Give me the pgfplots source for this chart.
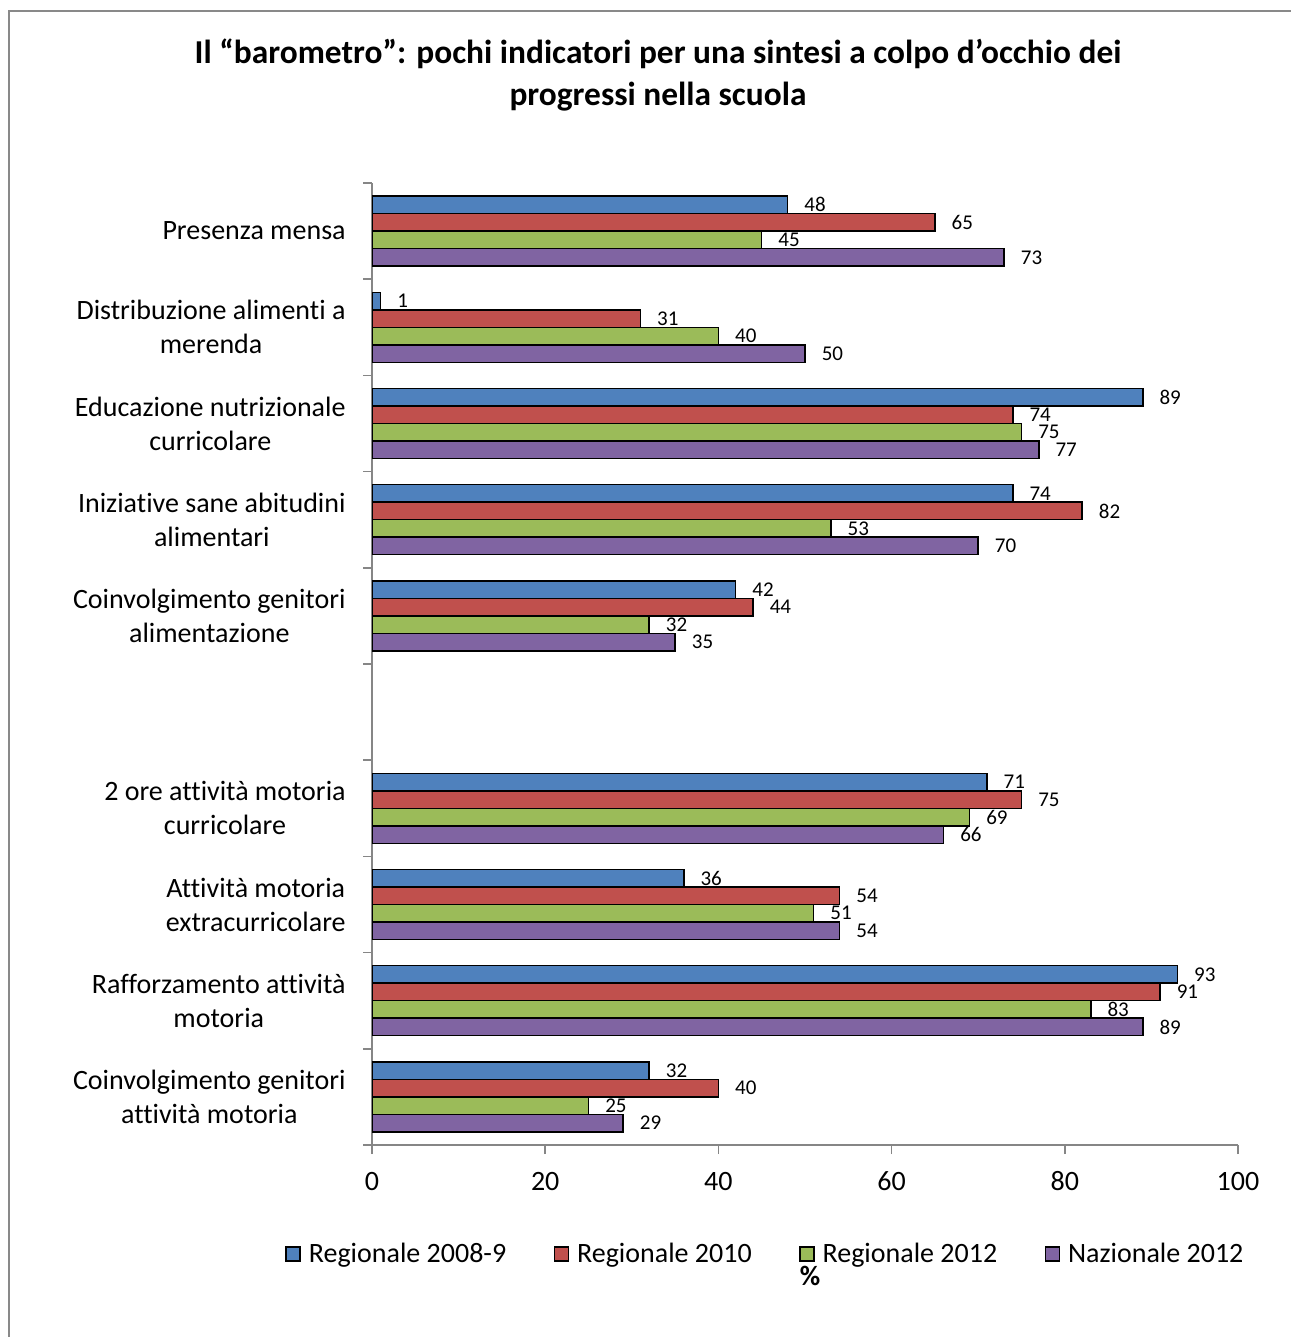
\documentclass[border=0pt]{standalone}
\usepackage{pgfplots}
\pgfplotsset{compat=1.18}
\usepackage{fontspec}
\setmainfont{Carlito}[Ligatures={TeX,NoCommon}]

\definecolor{regA}{HTML}{4F81BD}
\definecolor{regB}{HTML}{C0504D}
\definecolor{regC}{HTML}{9BBB59}
\definecolor{nazC}{HTML}{8064A2}
\definecolor{axgray}{HTML}{868686}
\definecolor{framegray}{HTML}{898989}

\begin{document}
\begin{tikzpicture}
\useasboundingbox (0,0) rectangle (645pt,-668.5pt);
\draw[framegray, line width=0.75pt] (4.5pt,-5.5pt) rectangle (660pt,-680pt);
\node[font=\fontsize{16.7}{21}\selectfont\bfseries, align=center] at (329pt,-37.5pt)
  {Il “barometro”: pochi indicatori per una sintesi a colpo d’occhio dei\\progressi nella scuola};

\begin{axis}[
  at={(186pt,-572.5pt)}, anchor=south west,
  scale only axis, width=433pt, height=481pt,
  xmin=0, xmax=100, ymin=-0.5, ymax=9.5,
  xbar=0pt, bar width=8.75pt,
  axis x line*=bottom, axis y line*=left,
  axis line style={draw=axgray, line width=0.75pt, -},
  tick style={draw=axgray, line width=0.75pt},
  tick align=outside, major tick length=4.5pt,
  /pgf/number format/assume math mode=true,
  xtick={0,20,...,100},
  xticklabel style={font=\fontsize{14}{17}\selectfont, anchor=center, inner sep=0pt, yshift=-13.5pt},
  ytick={-0.5,0.5,...,9.5}, yticklabels={},
  extra y ticks={0,1,2,3,5,6,7,8,9},
  extra y tick labels={
    {Coinvolgimento genitori\\attività motoria},
    {Rafforzamento attività\\motoria},
    {Attività motoria\\extracurricolare},
    {2 ore attività motoria\\curricolare},
    {Coinvolgimento genitori\\alimentazione},
    {Iniziative sane abitudini\\alimentari},
    {Educazione nutrizionale\\curricolare},
    {Distribuzione alimenti a\\merenda},
    {Presenza mensa}},
  extra y tick style={tick style={draw=none}},
  yticklabel style={font=\fontsize{14}{17}\selectfont, align=center, anchor=east, inner sep=0pt, xshift=-8.5pt},
  nodes near coords, point meta=x,
  every node near coord/.append style={font=\fontsize{10.5}{12}\selectfont, text=black, anchor=west, inner sep=0pt, xshift=8pt},
  every axis plot post/.append style={
    legend image code/.code={\draw[##1, line width=0.75pt] (0pt,-3.5pt) rectangle (7pt,3.5pt); \path (11pt,0pt);}},
  legend columns=4, reverse legend,
  legend style={at={(-0.1005,-0.1133)}, anchor=west, draw=none, fill=none, inner sep=0pt,
    font=\fontsize{14}{17}\selectfont, nodes={inner sep=0pt},
    /tikz/every even column/.append style={column sep=23.7pt}},
]
% Nazionale 2012
\addplot[draw=black, line width=0.75pt, fill=nazC] coordinates {
  (73,9) (50,8) (77,7) (70,6) (35,5) (66,3) (54,2) (89,1) (29,0)};
% Regionale 2012
\addplot[draw=black, line width=0.75pt, fill=regC] coordinates {
  (45,9) (40,8) (75,7) (53,6) (32,5) (69,3) (51,2) (83,1) (25,0)};
% Regionale 2010
\addplot[draw=black, line width=0.75pt, fill=regB] coordinates {
  (65,9) (31,8) (74,7) (82,6) (44,5) (75,3) (54,2) (91,1) (40,0)};
% Regionale 2008-9
\addplot[draw=black, line width=0.75pt, fill=regA] coordinates {
  (48,9) (1,8) (89,7) (74,6) (42,5) (71,3) (36,2) (93,1) (32,0)};
\legend{Nazionale 2012, Regionale 2012, Regionale 2010, Regionale 2008-9}
\end{axis}
\node[font=\fontsize{14}{17}\selectfont\bfseries] at (405pt,-638pt) {\%};
\end{tikzpicture}
\end{document}
